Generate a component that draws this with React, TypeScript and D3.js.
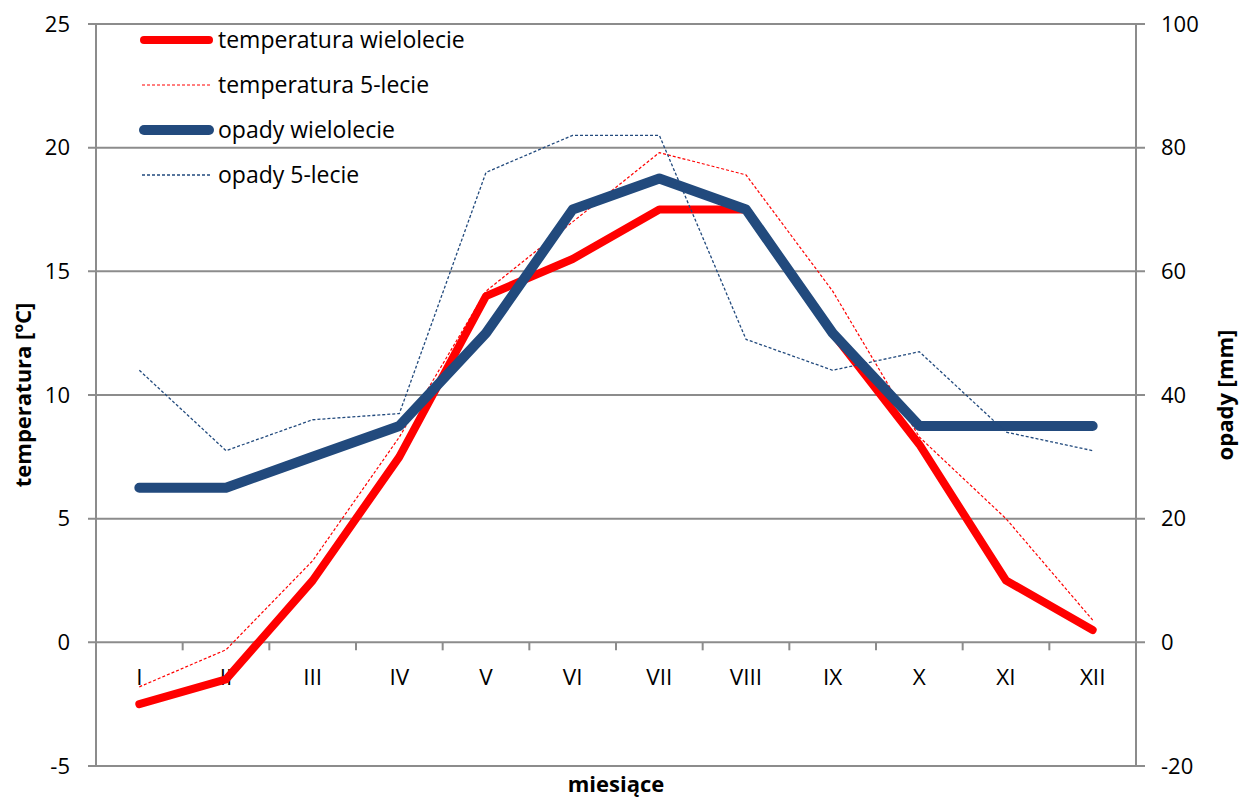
import React from "react";
import * as d3 from "d3";

const months = ["I", "II", "III", "IV", "V", "VI", "VII", "VIII", "IX", "X", "XI", "XII"];
const tempLong = [-2.5, -1.5, 2.5, 7.5, 14.0, 15.5, 17.5, 17.5, 12.5, 8.0, 2.5, 0.5];
const temp5 = [-1.8, -0.3, 3.3, 8.3, 14.2, 17.0, 19.8, 18.9, 14.2, 8.3, 5.0, 0.9];
const precLong = [25, 25, 30, 35, 50, 70, 75, 70, 50, 35, 35, 35];
const prec5 = [44, 31, 36, 37, 76, 82, 82, 49, 44, 47, 34, 31];
const leftTicks = [-5, 0, 5, 10, 15, 20, 25];
const rightTicks = [-20, 0, 20, 40, 60, 80, 100];
const legendLabels = ["temperatura wielolecie", "temperatura 5-lecie", "opady wielolecie", "opady 5-lecie"];

const W = 1240, H = 798;
const left = 96, right = 1136, top = 24, bottom = 766;
const FONT = "'Open Sans', sans-serif";
const GRID = "#8c8c8c";
const RED = "#ff0000";
const BLUE = "#224a7d";

export default function App() {
  const x = d3.scaleBand<string>().domain(months).range([left, right]);
  const yT = d3.scaleLinear().domain([-5, 25]).range([bottom, top]);
  const yP = d3.scaleLinear().domain([-20, 100]).range([bottom, top]);
  const cx = (m: string) => (x(m) as number) + x.bandwidth() / 2;

  const lineT = d3.line<number>().x((_, i) => cx(months[i])).y((d) => yT(d));
  const lineP = d3.line<number>().x((_, i) => cx(months[i])).y((d) => yP(d));

  const series = [
    { d: lineT(tempLong), color: RED, w: 8, dash: undefined },
    { d: lineT(temp5), color: RED, w: 1.2, dash: "3,2" },
    { d: lineP(precLong), color: BLUE, w: 10, dash: undefined },
    { d: lineP(prec5), color: BLUE, w: 1.3, dash: "3,2" },
  ];
  const legendStyles = [
    { color: RED, w: 8, dash: undefined },
    { color: RED, w: 1.2, dash: "3,2" },
    { color: BLUE, w: 10, dash: undefined },
    { color: BLUE, w: 1.3, dash: "3,2" },
  ];
  const boundaries = months.map((m) => x(m) as number).concat([right]);

  return (
    <svg width={W} height={H} style={{ position: "absolute", left: 0, top: 0, background: "#fff" }} fontFamily={FONT}>
      {leftTicks.map((t) => (
        <line key={"g" + t} x1={left - 8} x2={right + 9} y1={yT(t)} y2={yT(t)} stroke={GRID} strokeWidth={2} />
      ))}
      <line x1={left} x2={left} y1={top} y2={bottom} stroke={GRID} strokeWidth={2} />
      <line x1={right} x2={right} y1={top} y2={bottom} stroke={GRID} strokeWidth={2} />
      {boundaries.map((b, i) => (
        <line key={"ct" + i} x1={b} x2={b} y1={yT(0)} y2={yT(0) + 8} stroke={GRID} strokeWidth={2} />
      ))}
      {leftTicks.map((t) => (
        <text key={"lt" + t} x={70} y={yT(t)} dy="0.35em" textAnchor="end" fontSize={22} fill="#000">{t}</text>
      ))}
      {rightTicks.map((t) => (
        <text key={"rt" + t} x={1161} y={yP(t)} dy="0.35em" textAnchor="start" fontSize={22} fill="#000">{t}</text>
      ))}
      {months.map((m) => (
        <text key={"m" + m} x={cx(m)} y={677} dy="0.35em" textAnchor="middle" fontSize={22.5} fill="#000">{m}</text>
      ))}
      {series.map((s, i) => (
        <path key={"s" + i} d={s.d as string} fill="none" stroke={s.color} strokeWidth={s.w}
          strokeDasharray={s.dash} strokeLinecap={s.dash ? "butt" : "round"} strokeLinejoin="round" />
      ))}
      {legendLabels.map((l, i) => {
        const ly = 40 + i * 45;
        const st = legendStyles[i];
        return (
          <g key={"lg" + i}>
            <line x1={st.dash ? 142 : 144} x2={st.dash ? 211 : 209} y1={ly} y2={ly} stroke={st.color} strokeWidth={st.w}
              strokeDasharray={st.dash} strokeLinecap={st.dash ? "butt" : "round"} />
            <text x={218} y={ly} dy="0.35em" fontSize={23} fill="#000">{l}</text>
          </g>
        );
      })}
      <text transform={`translate(31,${(top + bottom) / 2}) rotate(-90)`} textAnchor="middle" fontSize={22} fontWeight="bold" fill="#000">
        temperatura [ºC]
      </text>
      <text transform={`translate(1233,${(top + bottom) / 2}) rotate(-90)`} textAnchor="middle" fontSize={22} fontWeight="bold" fill="#000">
        opady [mm]
      </text>
      <text x={(left + right) / 2} y={792} textAnchor="middle" fontSize={22} fontWeight="bold" fill="#000">miesiące</text>
    </svg>
  );
}
